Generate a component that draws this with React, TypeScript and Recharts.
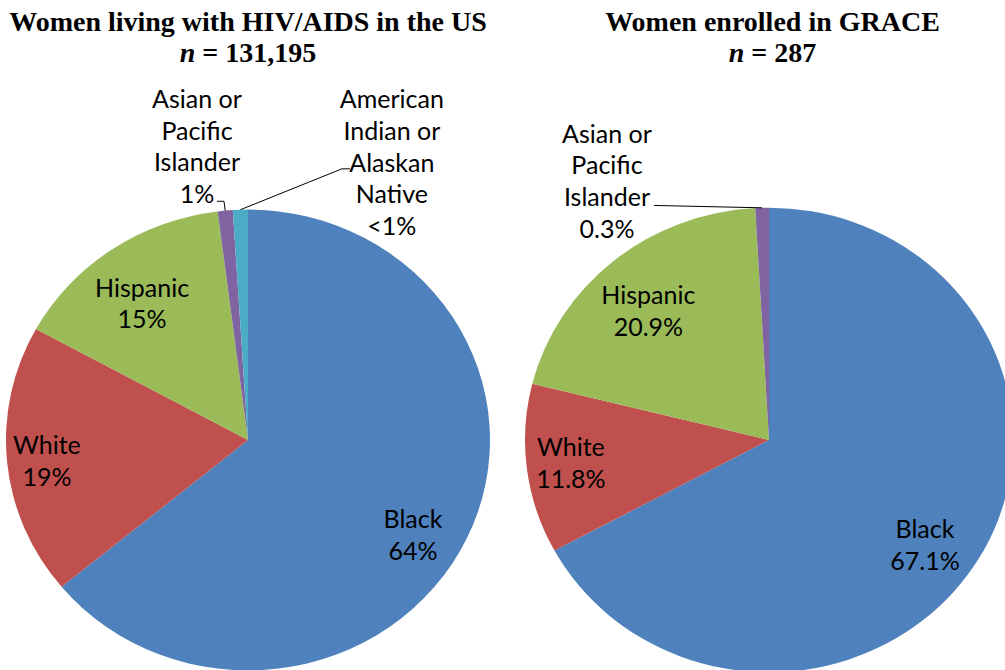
import React from 'react';
import { PieChart, Pie, Cell } from 'recharts';

// Women living with HIV/AIDS in the US (n = 131,195)
const usCategories = ['Black', 'White', 'Hispanic', 'Asian or Pacific Islander', 'American Indian or Alaskan Native'];
const usValues = [64, 19, 15, 1, 1];
const usLabels = [
    ['Black', '64%'],
    ['White', '19%'],
    ['Hispanic', '15%'],
    ['Asian or', 'Pacific', 'Islander', '1%'],
    ['American', 'Indian or', 'Alaskan', 'Native', '<1%'],
];

// Women enrolled in GRACE (n = 287)
const graceCategories = ['Black', 'White', 'Hispanic', 'Asian or Pacific Islander'];
const graceValues = [67.1, 11.8, 20.2, 0.9];
const graceLabels = [
    ['Black', '67.1%'],
    ['White', '11.8%'],
    ['Hispanic', '20.9%'],
    ['Asian or', 'Pacific', 'Islander', '0.3%'],
];

const COLORS = ['#4F81BD', '#C0504D', '#9BBB59', '#8064A2', '#4BACC6'];

// the original pies are slightly squashed vertically
const K = 0.952;
const CY = 440;
const LINE = 31.8;
const FONT = 'Lato, "Open Sans", sans-serif';
const FONT_SIZE = 25;

interface LabelLayout {
    radius: number;      // fraction of outer radius
    shift: number;       // degrees away from the slice's mid angle
    elbow?: [number, number];
    end?: [number, number];
}

const usLayout: LabelLayout[] = [
    { radius: 0.797, shift: -6 },
    { radius: 0.836, shift: 0.9 },
    { radius: 0.736, shift: 2.3 },
    { radius: 1.29, shift: 4, elbow: [27, 54.5], end: [20, 54.5] },
    { radius: 1.342, shift: -28.1, elbow: [-50, 6], end: [-42, 6] },
];

const graceLayout: LabelLayout[] = [
    { radius: 0.784, shift: -4.6 },
    { radius: 0.818, shift: -0.2 },
    { radius: 0.743, shift: 2.1 },
    { radius: 1.296, shift: 29.2, elbow: [47, 24], end: [47, 24] },
];

const makeLabel = (lines: string[][], layout: LabelLayout[]) => (props: any) => {
    const { cx, cy, midAngle, outerRadius, index } = props;
    const L = layout[index];
    const a = ((midAngle + L.shift) * Math.PI) / 180;
    const r = outerRadius * L.radius;
    const x = cx + r * Math.cos(a);
    const y = cy - r * Math.sin(a) * K;
    const m = (midAngle * Math.PI) / 180;
    const ex = cx + outerRadius * Math.cos(m);
    const ey = cy - outerRadius * Math.sin(m) * K;
    const text = lines[index];
    return (
        <g transform={`translate(0 ${CY}) scale(1 ${1 / K}) translate(0 ${-CY})`}>
            {L.elbow && L.end && (
                <polyline
                    points={`${ex},${ey} ${x + L.elbow[0]},${y + L.elbow[1]} ${x + L.end[0]},${y + L.end[1]}`}
                    fill="none"
                    stroke="#000"
                    strokeWidth={1}
                />
            )}
            <text textAnchor="middle" fontFamily={FONT} fontSize={FONT_SIZE} fill="#000">
                {text.map((t, i) => (
                    <tspan key={i} x={x} y={y + (i - (text.length - 1) / 2) * LINE + FONT_SIZE * 0.35}>
                        {t}
                    </tspan>
                ))}
            </text>
        </g>
    );
};

const usData = usCategories.map((name, i) => ({ name, value: usValues[i] }));
const graceData = graceCategories.map((name, i) => ({ name, value: graceValues[i] }));

const titleStyle: React.CSSProperties = {
    position: 'absolute',
    top: 6,
    textAlign: 'center',
    fontFamily: '"Liberation Serif", serif',
    fontWeight: 'bold',
    fontSize: 28,
    lineHeight: '31px',
    color: '#000',
};

const App: React.FC = () => {
    return (
        <div style={{ position: 'absolute', left: 0, top: 0, width: 1005, height: 670, overflow: 'hidden', background: '#fff' }}>
            <div style={{ position: 'absolute', left: 0, top: 0, transform: `scaleY(${K})`, transformOrigin: `0 ${CY}px` }}>
                <PieChart width={1005} height={720} margin={{ top: 0, right: 0, bottom: 0, left: 0 }}>
                    <Pie
                        data={usData}
                        dataKey="value"
                        cx={248}
                        cy={CY}
                        outerRadius={242}
                        startAngle={90}
                        endAngle={-270}
                        stroke="none"
                        label={makeLabel(usLabels, usLayout)}
                        labelLine={false}
                        isAnimationActive={false}
                    >
                        {usData.map((d, i) => (
                            <Cell key={d.name} fill={COLORS[i]} />
                        ))}
                    </Pie>
                    <Pie
                        data={graceData}
                        dataKey="value"
                        cx={769}
                        cy={CY}
                        outerRadius={244}
                        startAngle={90}
                        endAngle={-270}
                        stroke="none"
                        label={makeLabel(graceLabels, graceLayout)}
                        labelLine={false}
                        isAnimationActive={false}
                    >
                        {graceData.map((d, i) => (
                            <Cell key={d.name} fill={COLORS[i]} />
                        ))}
                    </Pie>
                </PieChart>
            </div>
            <div style={{ ...titleStyle, left: 0, width: 496 }}>
                Women living with HIV/AIDS in the US
                <br />
                <i>n</i> = 131,195
            </div>
            <div style={{ ...titleStyle, left: 540, width: 465 }}>
                Women enrolled in GRACE
                <br />
                <i>n</i> = 287
            </div>
        </div>
    );
};

export default App;
